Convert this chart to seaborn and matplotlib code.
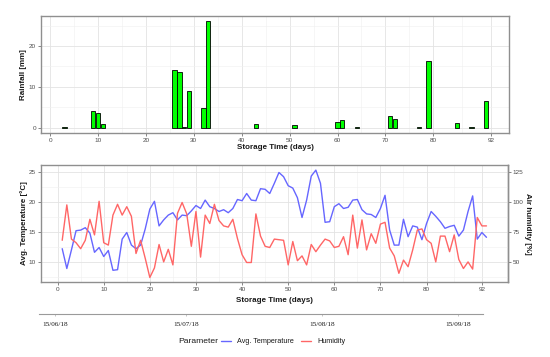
import matplotlib
matplotlib.use("Agg")
import matplotlib.pyplot as plt
import numpy as np
import pandas as pd
import seaborn as sns
from matplotlib.lines import Line2D
from matplotlib.ticker import FixedLocator
import matplotlib.dates as mdates

# ---------------- data ----------------
rain_days = [3, 9, 10, 11, 26, 27, 28, 29, 32, 33, 43, 51, 60, 61, 64, 71, 72, 77, 79, 85, 88, 91]
rain_mm = [0.15, 4.0, 3.7, 0.8, 14.1, 13.7, 0.1, 8.9, 4.9, 26.1, 1.0, 0.55, 1.5, 1.9, 0.2,
           2.8, 2.2, 0.2, 16.2, 1.1, 0.2, 6.5]

days = list(range(1, 94))
avg_temp = [12.2, 8.9, 12.0, 15.2, 15.3, 15.7, 14.8, 11.6, 12.4, 10.9,
            11.9, 8.6, 8.7, 13.8, 14.9, 12.8, 12.2, 12.8, 15.5, 18.8,
            20.1, 16.0, 17.0, 17.8, 18.2, 17.0, 17.8, 17.7, 18.5, 19.4,
            18.9, 20.3, 19.2, 18.9, 18.4, 18.7, 18.2, 18.9, 20.4, 20.2,
            21.4, 20.3, 20.2, 22.2, 22.1, 21.4, 23.1, 24.9, 24.2, 22.7,
            22.3, 20.7, 17.4, 20.3, 24.3, 25.3, 23.1, 16.6, 16.7, 19.2,
            19.7, 18.9, 19.1, 20.3, 20.4, 18.7, 18.0, 17.9, 17.4, 18.9,
            21.1, 15.3, 12.8, 12.8, 17.1, 14.2, 16.0, 15.8, 13.7, 16.4,
            18.4, 17.6, 16.7, 15.6, 15.9, 16.1, 14.3, 15.3, 18.4, 21.0,
            13.8, 14.9, 14.1]
humidity = [68, 97.5, 69, 66, 61, 68, 85.5, 72.5, 100.5, 66,
            64, 89, 98, 89, 96, 88, 57, 68, 53, 37,
            45, 64.5, 50, 60.5, 47.5, 90.5, 99.5, 90, 63, 92,
            54, 89, 82, 98, 84.5, 80, 79, 85.5, 69.5, 56,
            49.5, 49.5, 90, 71.5, 63, 62, 69, 68.5, 68, 47.5,
            67, 51, 55, 47.5, 64.5, 58.5, 64, 69, 67.5, 62,
            63, 71, 56, 89, 61.5, 85, 60, 73.5, 65.5, 81.5,
            83, 61.5, 55, 40.5, 51.5, 46, 60, 76.5, 77.5, 68.5,
            65.5, 50, 71.5, 71.5, 58.5, 72.5, 52, 44.5, 50, 44,
            87, 80, 80]

day_ticks = [0, 10, 20, 30, 40, 50, 60, 70, 80, 92]
rain_ticks = [0, 10, 20]
temp_ticks = [10, 15, 20, 25]
hum_ticks = [50, 75, 100, 125]
date_ticks = ["2018-06-15", "2018-07-15", "2018-08-15", "2018-09-15"]
params = ["Avg. Temperature", "Humidity"]
HUM_SCALE = 5.0

# ---------------- style ----------------
sns.set_theme(style="white")
plt.rcParams["font.family"] = ["Liberation Sans", "DejaVu Sans"]

W, H = 550, 357
fig = plt.figure(figsize=(W / 100, H / 100), dpi=100)


def box(l, t, r, b):
    return [l / W, 1 - b / H, (r - l) / W, (b - t) / H]


def mids(t):
    return [(a + b) / 2 for a, b in zip(t[:-1], t[1:])]


def style(ax, xt, yt, yminor):
    ax.set_facecolor("white")
    for s in ax.spines.values():
        s.set_visible(True)
        s.set_color("#8f8f8f")
        s.set_linewidth(1.0)
    ax.set_xticks(xt)
    ax.set_yticks(yt)
    ax.xaxis.set_minor_locator(FixedLocator(mids(xt)))
    ax.yaxis.set_minor_locator(FixedLocator(yminor))
    ax.grid(True, which="major", color="#E3E3E3", linewidth=0.6)
    ax.grid(True, which="minor", color="#F0F0F0", linewidth=0.4)
    ax.set_axisbelow(True)
    ax.tick_params(which="major", bottom=True, left=True, length=2, width=0.5,
                   color="#555555", labelsize=4.6, labelcolor="#4D4D4D", pad=1.5)
    ax.tick_params(which="minor", length=0)


lab_kw = dict(fontsize=5.8, fontweight="bold", color="#1A1A1A")

# ---------------- top: rainfall ----------------
ax1 = fig.add_axes(box(41, 15.7, 509, 133))
sns.barplot(x=rain_days, y=rain_mm, native_scale=True, width=0.9, color="#00FF00",
            saturation=1, edgecolor="black", linewidth=0.6, errorbar=None, ax=ax1)
ax1.set_xlim(-1.9, 95.8)
ax1.set_ylim(-1.3, 27.4)
style(ax1, day_ticks, rain_ticks, [5, 15, 25])
ax1.set_xlabel("Storage Time (days)", **lab_kw)
ax1.set_ylabel("Rainfall [mm]", **lab_kw)
ax1.xaxis.set_label_coords(0.5, -(144 - 133) / (133 - 15.7))
ax1.yaxis.set_label_coords((27 - 41) / (509 - 41), 0.5)

# ---------------- bottom: temperature & humidity ----------------
ax2 = fig.add_axes(box(41, 164.7, 507.7, 282.3))
df = pd.DataFrame({
    "day": days + days,
    "value": avg_temp + [h / HUM_SCALE for h in humidity],
    "Parameter": [params[0]] * len(days) + [params[1]] * len(days),
})
pal = {params[0]: (0.4, 0.4, 1.0), params[1]: (1.0, 0.4, 0.4)}
sns.lineplot(data=df, x="day", y="value", hue="Parameter", palette=pal,
             linewidth=1.0, legend=False, ax=ax2)
ax2.set_xlim(-3.6, 97.6)
ax2.set_ylim(6.6, 26.2)
style(ax2, day_ticks, temp_ticks, [7.5, 12.5, 17.5, 22.5])
ax2.set_xlabel("Storage Time (days)", **lab_kw)
ax2.set_ylabel("Avg. Temperature [°C]", **lab_kw)
ax2.xaxis.set_label_coords(0.5, -(297 - 282.3) / (282.3 - 164.7))
ax2.yaxis.set_label_coords((28 - 41) / (507.7 - 41), 0.5)

sec = ax2.secondary_yaxis("right", functions=(lambda v: v * HUM_SCALE, lambda v: v / HUM_SCALE))
sec.set_yticks(hum_ticks)
sec.tick_params(length=2, width=0.5, color="#555555", labelsize=4.6, labelcolor="#4D4D4D", pad=1.5)
sec.spines["right"].set_color("#8f8f8f")
sec.spines["right"].set_linewidth(1.0)
fig.text(527.5 / W, 1 - 223.5 / H, "Air humidity [%]", rotation=270,
         ha="center", va="center", **lab_kw)

# ---------------- date axis ----------------
ax3 = fig.add_axes(box(39, 300, 483, 314))
start = pd.Timestamp(date_ticks[0])
ax3.set_xlim(start - pd.Timedelta(days=3.6), start + pd.Timedelta(days=97.6))
ax3.set_ylim(0, 1)
ax3.set_facecolor("none")
for k in ["top", "left", "right"]:
    ax3.spines[k].set_visible(False)
ax3.spines["bottom"].set_color("#9a9a9a")
ax3.spines["bottom"].set_linewidth(0.8)
ax3.set_yticks([])
ax3.set_xticks(pd.to_datetime(date_ticks))
ax3.xaxis.set_major_formatter(mdates.DateFormatter("%d/%m/%y"))
ax3.tick_params(axis="x", bottom=True, length=1.5, width=0.4, color="#9a9a9a", pad=4)
for t in ax3.get_xticklabels():
    t.set_family(["Liberation Serif", "DejaVu Serif"])
    t.set_fontsize(5.2)
    t.set_color("#1A1A1A")

# ---------------- legend ----------------
ly = 1 - 341.5 / H
fig.text(178 / W, ly, "Parameter", fontsize=6.1, color="#1A1A1A", va="center", ha="left")
handles = [Line2D([], [], color=pal[p], linewidth=1.0) for p in params]
fig.legend(handles, params, loc="center left", bbox_to_anchor=(221 / W, ly), ncol=2,
           frameon=False, fontsize=5.2, handlelength=1.45, handletextpad=0.8,
           columnspacing=0.9, borderpad=0, borderaxespad=0, labelcolor="#1A1A1A")

fig.savefig("out.png", dpi=100)
